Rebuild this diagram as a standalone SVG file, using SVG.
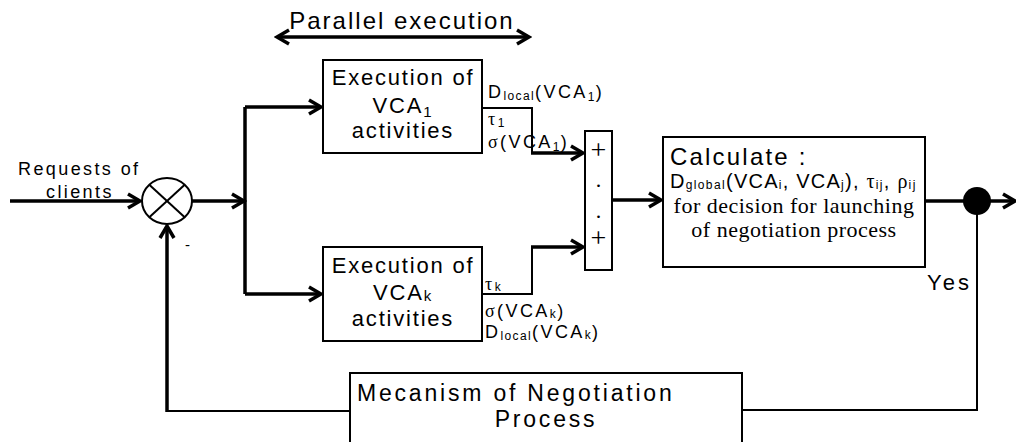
<svg xmlns="http://www.w3.org/2000/svg" width="1016" height="442" viewBox="0 0 1016 442">
<style>
.box{fill:#fff;stroke:#000;stroke-width:2}
.thick{fill:none;stroke:#000;stroke-width:3.5}
.thin{fill:none;stroke:#000;stroke-width:2}
text{font-family:"Liberation Sans",Arial,sans-serif;fill:#000}
.bt{font-size:22px;letter-spacing:1.8px;text-anchor:middle}
.lb{font-size:18px;letter-spacing:2.4px}
.sub{font-size:12px;letter-spacing:1.4px}
.gr{font-family:"Liberation Serif","Times New Roman",serif}
.serif{font-family:"Liberation Serif","Times New Roman",serif}
</style>
<defs>
<marker id="ah" markerUnits="userSpaceOnUse" markerWidth="18" markerHeight="18" refX="15" refY="9" orient="auto-start-reverse" viewBox="0 0 18 18">
<path d="M3,2 L15,9 L3,16" fill="none" stroke="#000" stroke-width="3.5"/>
</marker>
</defs>

<g id="parallel">
<text x="402" y="29" style="font-size:24px;letter-spacing:2px;text-anchor:middle">Parallel execution</text>
<line x1="277" y1="37" x2="529" y2="37" class="thick" marker-start="url(#ah)" marker-end="url(#ah)"/>
</g>

<g id="connectors">
<path d="M10,201 H140" class="thick" marker-end="url(#ah)"/>
<path d="M192,201 H244" class="thick" marker-end="url(#ah)"/>
<path d="M245,107 V294" class="thick"/>
<path d="M245,107 H321" class="thick" marker-end="url(#ah)"/>
<path d="M245,294 H321" class="thick" marker-end="url(#ah)"/>
<path d="M482,108 H532 V153" class="thin"/>
<path d="M531,153 H583" class="thick" marker-end="url(#ah)"/>
<path d="M482,294 H532 V247" class="thin"/>
<path d="M531,247 H583" class="thick" marker-end="url(#ah)"/>
<path d="M612,200 H661" class="thick" marker-end="url(#ah)"/>
<path d="M925,201 H1015" class="thick" marker-end="url(#ah)"/>
<path d="M977,201 V410 H742" class="thin"/>
<path d="M350,411 H167" class="thin"/>
<path d="M167,412 V226" class="thick" marker-end="url(#ah)"/>
</g>

<g id="requests">
<text x="18" y="175" class="lb">Requests of</text>
<text x="46" y="198" class="lb">clients</text>
</g>

<g id="sum-junction">
<ellipse cx="167" cy="201" rx="25" ry="23" fill="#fff" stroke="#000" stroke-width="2"/>
<line x1="149.3" y1="184.7" x2="184.7" y2="217.3" stroke="#000" stroke-width="2"/>
<line x1="184.7" y1="184.7" x2="149.3" y2="217.3" stroke="#000" stroke-width="2"/>
<text x="185" y="250" style="font-size:15px">-</text>
</g>

<g id="vca1">
<rect x="323" y="60" width="159" height="93" class="box"/>
<text x="403" y="85" class="bt">Execution of</text>
<text x="403" y="113" class="bt">VCA<tspan style="font-size:15px" dy="4">1</tspan></text>
<text x="403" y="138" class="bt">activities</text>
<text x="488" y="98" class="lb">D<tspan class="sub" dy="2">local</tspan><tspan dy="-2">(VCA</tspan><tspan class="sub" dy="3">1</tspan><tspan dy="-3">)</tspan></text>
<text x="488" y="125" class="lb"><tspan class="gr">τ</tspan><tspan class="sub" dy="2">1</tspan></text>
<text x="488" y="148" class="lb"><tspan class="gr">σ</tspan>(VCA<tspan class="sub" dy="3">1</tspan><tspan dy="-3">)</tspan></text>
</g>

<g id="vcak">
<rect x="323" y="247" width="159" height="94" class="box"/>
<text x="403" y="273" class="bt">Execution of</text>
<text x="403" y="300" class="bt">VCA<tspan style="font-size:15px" dy="1">k</tspan></text>
<text x="403" y="326" class="bt">activities</text>
<text x="485" y="290" class="lb"><tspan class="gr">τ</tspan><tspan class="sub" dy="1">k</tspan></text>
<text x="485" y="317" class="lb"><tspan class="gr">σ</tspan>(VCA<tspan class="sub" dy="1">k</tspan><tspan dy="-1">)</tspan></text>
<text x="485" y="338" class="lb">D<tspan class="sub" dy="2">local</tspan><tspan dy="-2">(VCA</tspan><tspan class="sub" dy="1">k</tspan><tspan dy="-1">)</tspan></text>
</g>

<g id="sum-box">
<rect x="585" y="131" width="27" height="139" class="box"/>
<text x="598.5" y="159" class="serif" style="font-size:28px;text-anchor:middle">+</text>
<text x="598.5" y="187" class="serif" style="font-size:22px;text-anchor:middle">.</text>
<text x="598.5" y="218" class="serif" style="font-size:22px;text-anchor:middle">.</text>
<text x="598.5" y="247" class="serif" style="font-size:28px;text-anchor:middle">+</text>
</g>

<g id="calculate">
<rect x="663" y="137" width="262" height="130" class="box"/>
<text x="670" y="165" style="font-size:24px;letter-spacing:2.2px">Calculate :</text>
<text x="670" y="188" style="font-size:20px;letter-spacing:1.2px">D<tspan class="sub" dy="1">global</tspan><tspan dy="-1">(VCA</tspan><tspan class="sub" dy="1">i</tspan><tspan dy="-1">, VCA</tspan><tspan class="sub" dy="1">j</tspan><tspan dy="-1">), </tspan><tspan class="gr">τ</tspan><tspan class="sub" dy="1">ij</tspan><tspan dy="-1">, </tspan><tspan class="gr">ρ</tspan><tspan class="sub" dy="1">ij</tspan></text>
<text x="794" y="213" class="serif" style="font-size:22px;letter-spacing:0.5px;text-anchor:middle">for decision for launching</text>
<text x="794" y="237" class="serif" style="font-size:22px;letter-spacing:0.5px;text-anchor:middle">of negotiation process</text>
</g>

<g id="decision-dot">
<circle cx="977" cy="201" r="14" fill="#000"/>
<text x="927" y="290" style="font-size:22px;letter-spacing:3px">Yes</text>
</g>

<g id="negotiation">
<rect x="350" y="373" width="392" height="80" class="box"/>
<text x="357" y="401" style="font-size:23px;letter-spacing:2.8px">Mecanism of Negotiation</text>
<text x="546" y="427" style="font-size:23px;letter-spacing:2.8px;text-anchor:middle">Process</text>
</g>
</svg>
